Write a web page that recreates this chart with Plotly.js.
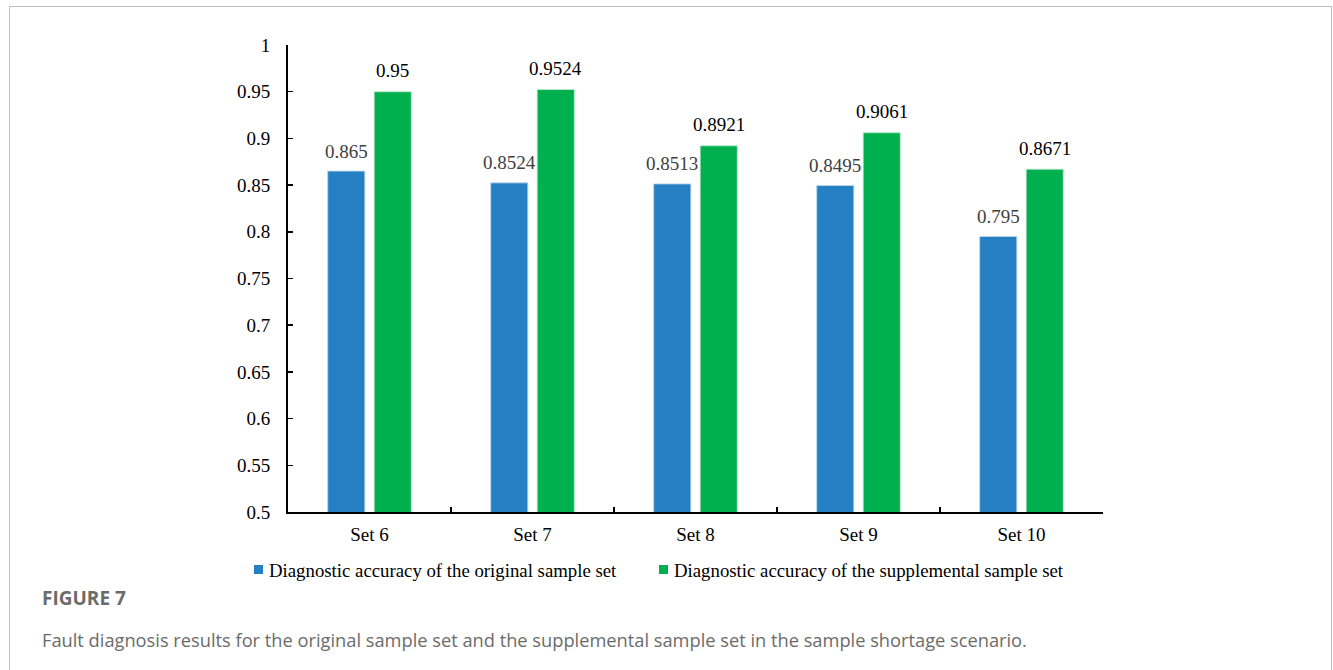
<!DOCTYPE html>
<html>
<head>
<meta charset="utf-8">
<script src="https://cdn.plot.ly/plotly-3.0.1.min.js"></script>
<style>
html,body{margin:0;padding:0;background:#fff;}
#frame{position:absolute;left:9px;top:6px;width:1323px;height:700px;border:1px solid #bdbdbd;border-bottom:none;box-sizing:border-box;}
#chart{position:absolute;left:0;top:0;width:1333px;height:670px;}
</style>
</head>
<body>
<div id="frame"></div>
<div id="chart"></div>
<script>
const categories = ["Set 6", "Set 7", "Set 8", "Set 9", "Set 10"];
const originalAcc = [0.865, 0.8524, 0.8513, 0.8495, 0.795];
const supplementalAcc = [0.95, 0.9524, 0.8921, 0.9061, 0.8671];
const originalLabels = ["0.865", "0.8524", "0.8513", "0.8495", "0.795"];
const supplementalLabels = ["0.95", "0.9524", "0.8921", "0.9061", "0.8671"];
const yTickVals = [0.5, 0.55, 0.6, 0.65, 0.7, 0.75, 0.8, 0.85, 0.9, 0.95, 1];
const yTickText = ["0.5", "0.55", "0.6", "0.65", "0.7", "0.75", "0.8", "0.85", "0.9", "0.95", "1"];
const seriesNames = ["Diagnostic accuracy of the original sample set", "Diagnostic accuracy of the supplemental sample set"];
const seriesColors = ["#2580C3", "#00B04F"];
const captionTitle = "FIGURE 7";
const captionText = "Fault diagnosis results for the original sample set and the supplemental sample set in the sample shortage scenario.";

const serif = "Liberation Serif, Times New Roman, serif";
const sans = "Open Sans, Noto Sans, sans-serif";
const FS = 19;
const L = 288, R = 1103, T = 45, B = 512, W = 1333, H = 670;
const px = x => (x - L) / (R - L);
const py = y => (B - y) / (B - T);

const BARGAP = 0.43, GROUPGAP = 0.2;
const slotPx = (R - L) / categories.length * (1 - BARGAP) / 2;

const traces = [
  {
    type: "bar", name: seriesNames[0], x: categories, y: originalAcc, showlegend: false,
    marker: {color: seriesColors[0], line: {color: "rgba(190,215,235,0.9)", width: 1}}
  },
  {
    type: "bar", name: seriesNames[1], x: categories, y: supplementalAcc, showlegend: false,
    marker: {color: seriesColors[1], line: {color: "rgba(190,235,205,0.9)", width: 1}}
  }
];

const annotations = [];
categories.forEach((c, i) => {
  annotations.push({x: c, y: originalAcc[i], xref: "x", yref: "y", text: originalLabels[i],
    showarrow: false, xshift: -slotPx / 2, yshift: 20, yanchor: "middle",
    font: {family: serif, size: FS, color: "#404040"}});
  annotations.push({x: c, y: supplementalAcc[i], xref: "x", yref: "y", text: supplementalLabels[i],
    showarrow: false, xshift: slotPx / 2, yshift: 21, yanchor: "middle",
    font: {family: serif, size: FS, color: "#000"}});
});

// legend (drawn manually to match the compact original layout)
const legendItems = [{sx: 254, tx: 267}, {sx: 659, tx: 672}];
const shapes = [];
legendItems.forEach((it, k) => {
  shapes.push({type: "rect", xref: "paper", yref: "paper",
    x0: px(it.sx), x1: px(it.sx + 9), y0: py(574), y1: py(565),
    fillcolor: seriesColors[k], line: {width: 0}});
  annotations.push({text: seriesNames[k], xref: "paper", yref: "paper", x: px(it.tx), y: py(570),
    xanchor: "left", yanchor: "middle", showarrow: false,
    font: {family: serif, size: 18.8, color: "#000"}});
});

annotations.push({text: "<b>" + captionTitle + "</b>", xref: "paper", yref: "paper", x: px(40), y: py(598),
  xanchor: "left", yanchor: "middle", showarrow: false,
  font: {family: sans, size: 19, color: "#6b6b6b"}});
annotations.push({text: captionText, xref: "paper", yref: "paper", x: px(40), y: py(639),
  xanchor: "left", yanchor: "middle", showarrow: false,
  font: {family: sans, size: 18.25, color: "#6b6b6b"}});

const layout = {
  width: W, height: H,
  margin: {l: L, r: W - R, t: T, b: H - B, pad: 0},
  paper_bgcolor: "rgba(0,0,0,0)", plot_bgcolor: "rgba(0,0,0,0)",
  barmode: "group", bargap: BARGAP, bargroupgap: GROUPGAP,
  font: {family: serif, size: FS, color: "#000"},
  showlegend: false,
  xaxis: {
    showline: true, linecolor: "#000", linewidth: 2,
    ticks: "inside", ticklen: 5, tickwidth: 1.5, tickcolor: "#000",
    tickson: "boundaries", showgrid: false, zeroline: false,
    tickfont: {family: serif, size: FS, color: "#000"},
    ticklabelstandoff: 4
  },
  yaxis: {
    range: [0.5, 1], showline: true, linecolor: "#000", linewidth: 2,
    tickvals: yTickVals, ticktext: yTickText,
    ticks: "inside", ticklen: 5, tickwidth: 1.5, tickcolor: "#000",
    showgrid: false, zeroline: false,
    tickfont: {family: serif, size: FS, color: "#000"},
    ticklabelstandoff: 12
  },
  shapes: shapes,
  annotations: annotations
};

Plotly.newPlot("chart", traces, layout, {displayModeBar: false, staticPlot: true});
</script>
</body>
</html>
